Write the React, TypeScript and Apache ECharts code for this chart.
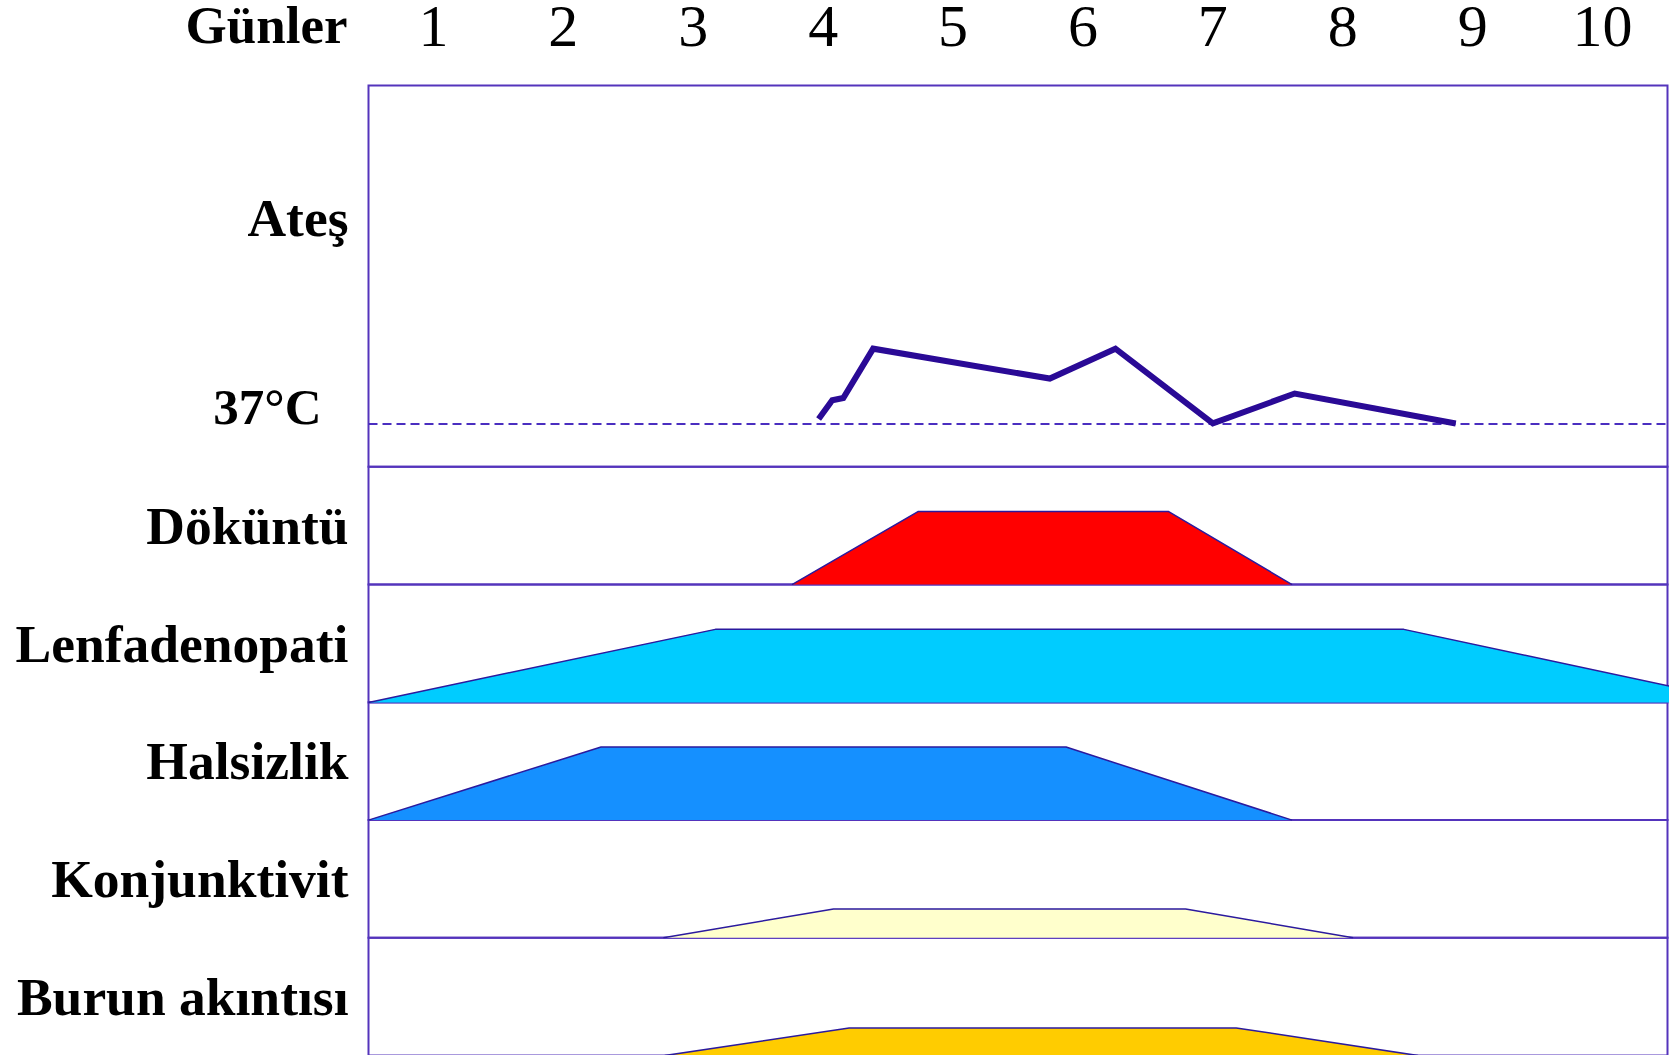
import React, { useEffect, useRef } from "react";
import * as echarts from "echarts";

const FONT = '"Liberation Serif", "Times New Roman", Times, serif';
const FRAME = "#5434BC";
const OUTLINE = "#2B1A9E";

// Top axis (days)
const days = ["1", "2", "3", "4", "5", "6", "7", "8", "9", "10"];
const daysTitle = "Günler";

// Fever curve (day position, °C)
const feverDays = [3.965, 4.07, 4.155, 4.385, 5.745, 6.25, 7.0, 7.63, 8.87];
const feverTemps = [37.06, 37.31, 37.34, 38.0, 37.6, 38.0, 37.0, 37.4, 37.0];
const baselineTemp = 37;
const feverLabelValues = [37, 39.75];
const feverLabelTexts = ["37°C", "Ateş"];

// Symptoms: trapezoids (start, full-from, full-until, end) in days, and relative intensity
const symptomNames = ["Döküntü", "Lenfadenopati", "Halsizlik", "Konjunktivit", "Burun akıntısı"];
const symptomDays = [
  [3.76, 4.73, 6.66, 7.61],
  [0.5, 3.17, 8.47, 11.1],
  [0.5, 2.29, 5.87, 7.61],
  [2.77, 4.08, 6.79, 8.08],
  [2.78, 4.2, 7.18, 8.58],
];
const symptomPeaks = [0.62, 0.62, 0.62, 0.245, 0.235];
const symptomColors = ["#FF0000", "#00CCFF", "#1590FF", "#FFFFCC", "#FFCC00"];

export default function App() {
  const ref = useRef<HTMLDivElement>(null);

  useEffect(() => {
    if (!ref.current) return;
    const chart = echarts.init(ref.current, null, { renderer: "svg" });

    const gridLeft = 368.5;
    const gridRight = 7.5;
    const rowTops = [466.8, 584.6, 702.3, 820.0, 937.8];
    const rowH = 117.8;

    const grids: any[] = [
      {
        left: gridLeft,
        right: gridRight,
        top: 85.5,
        height: 381.3,
        show: true,
        borderColor: FRAME,
        borderWidth: 2,
        containLabel: false,
        outerBoundsMode: "none",
      },
      ...rowTops.map((t) => ({
        left: gridLeft,
        right: gridRight,
        top: t,
        height: rowH,
        show: true,
        borderColor: FRAME,
        borderWidth: 2,
        containLabel: false,
        outerBoundsMode: "none",
      })),
    ];

    const labelStyle = {
      fontSize: 53.5,
      fontWeight: "bold",
      fontFamily: FONT,
      color: "#000",
    };

    const xAxes: any[] = [
      {
        gridIndex: 0,
        type: "category",
        position: "top",
        data: days,
        boundaryGap: true,
        axisLine: { show: false },
        axisTick: { show: false },
        splitLine: { show: false },
        axisLabel: {
          fontSize: 60,
          lineHeight: 46,
          fontFamily: FONT,
          color: "#000",
          margin: 59.5,
          verticalAlign: "middle",
        },
        name: "{g|" + daysTitle + "}",
        nameLocation: "start",
        nameGap: 21,
        nameTextStyle: {
          align: "right",
          verticalAlign: "middle",
          rich: {
            g: { ...labelStyle, fontSize: 53, lineHeight: 46, padding: [0, 0, 121, 0] },
          },
        },
      },
      { gridIndex: 0, type: "value", min: 0.5, max: 10.5, show: false },
      ...symptomNames.map((_, i) => ({
        gridIndex: i + 1,
        type: "value",
        min: 0.5,
        max: 10.5,
        show: false,
      })),
    ];

    const yAxes: any[] = [
      {
        gridIndex: 0,
        type: "value",
        min: 36.42,
        max: 41.52,
        axisLine: { show: false },
        axisTick: { show: false },
        splitLine: { show: false },
        axisLabel: {
          customValues: feverLabelValues,
          margin: 20,
          formatter: (v: number) => {
            const idx = feverLabelValues.indexOf(v);
            const txt = idx >= 0 ? feverLabelTexts[idx] : "";
            return v === baselineTemp ? "{c|" + txt + "}" : "{a|" + txt + "}";
          },
          rich: {
            a: { ...labelStyle },
            c: { ...labelStyle, fontSize: 51, padding: [0, 27, 32, 0] },
          },
        },
      },
    ];
    symptomNames.forEach((name, i) => {
      yAxes.push({
        gridIndex: i + 1,
        type: "category",
        data: [name],
        position: "left",
        axisLine: { show: false },
        axisTick: { show: false },
        splitLine: { show: false },
        axisLabel: { ...labelStyle, margin: 20 },
      });
      yAxes.push({
        gridIndex: i + 1,
        type: "value",
        min: 0,
        max: 1,
        show: false,
      });
    });

    const series: any[] = [
      {
        type: "line",
        xAxisIndex: 1,
        yAxisIndex: 0,
        data: feverDays.map((d, k) => [d, feverTemps[k]]),
        showSymbol: false,
        lineStyle: { color: "#2A0A96", width: 6, join: "miter" },
        markLine: {
          silent: true,
          symbol: "none",
          label: { show: false },
          lineStyle: { color: "#4A2EC0", width: 2, type: [9, 5] },
          data: [{ yAxis: baselineTemp }],
        },
        z: 5,
      },
    ];
    symptomNames.forEach((name, i) => {
      const pts = symptomDays[i].map((d, k) => [
        d,
        k === 0 || k === 3 ? 0 : symptomPeaks[i],
      ]);
      series.push({
        type: "line",
        name,
        xAxisIndex: i + 2,
        yAxisIndex: 2 + 2 * i,
        data: pts,
        showSymbol: false,
        clip: true,
        lineStyle: { color: OUTLINE, width: 1.5 },
        areaStyle: { color: symptomColors[i], opacity: 1, origin: "start" },
      });
    });

    chart.setOption({
      animation: false,
      backgroundColor: "#fff",
      grid: grids,
      xAxis: xAxes,
      yAxis: yAxes,
      series,
    });

    return () => chart.dispose();
  }, []);

  return (
    <div
      ref={ref}
      style={{ position: "fixed", left: 0, top: 0, width: 1675, height: 1055 }}
    />
  );
}
